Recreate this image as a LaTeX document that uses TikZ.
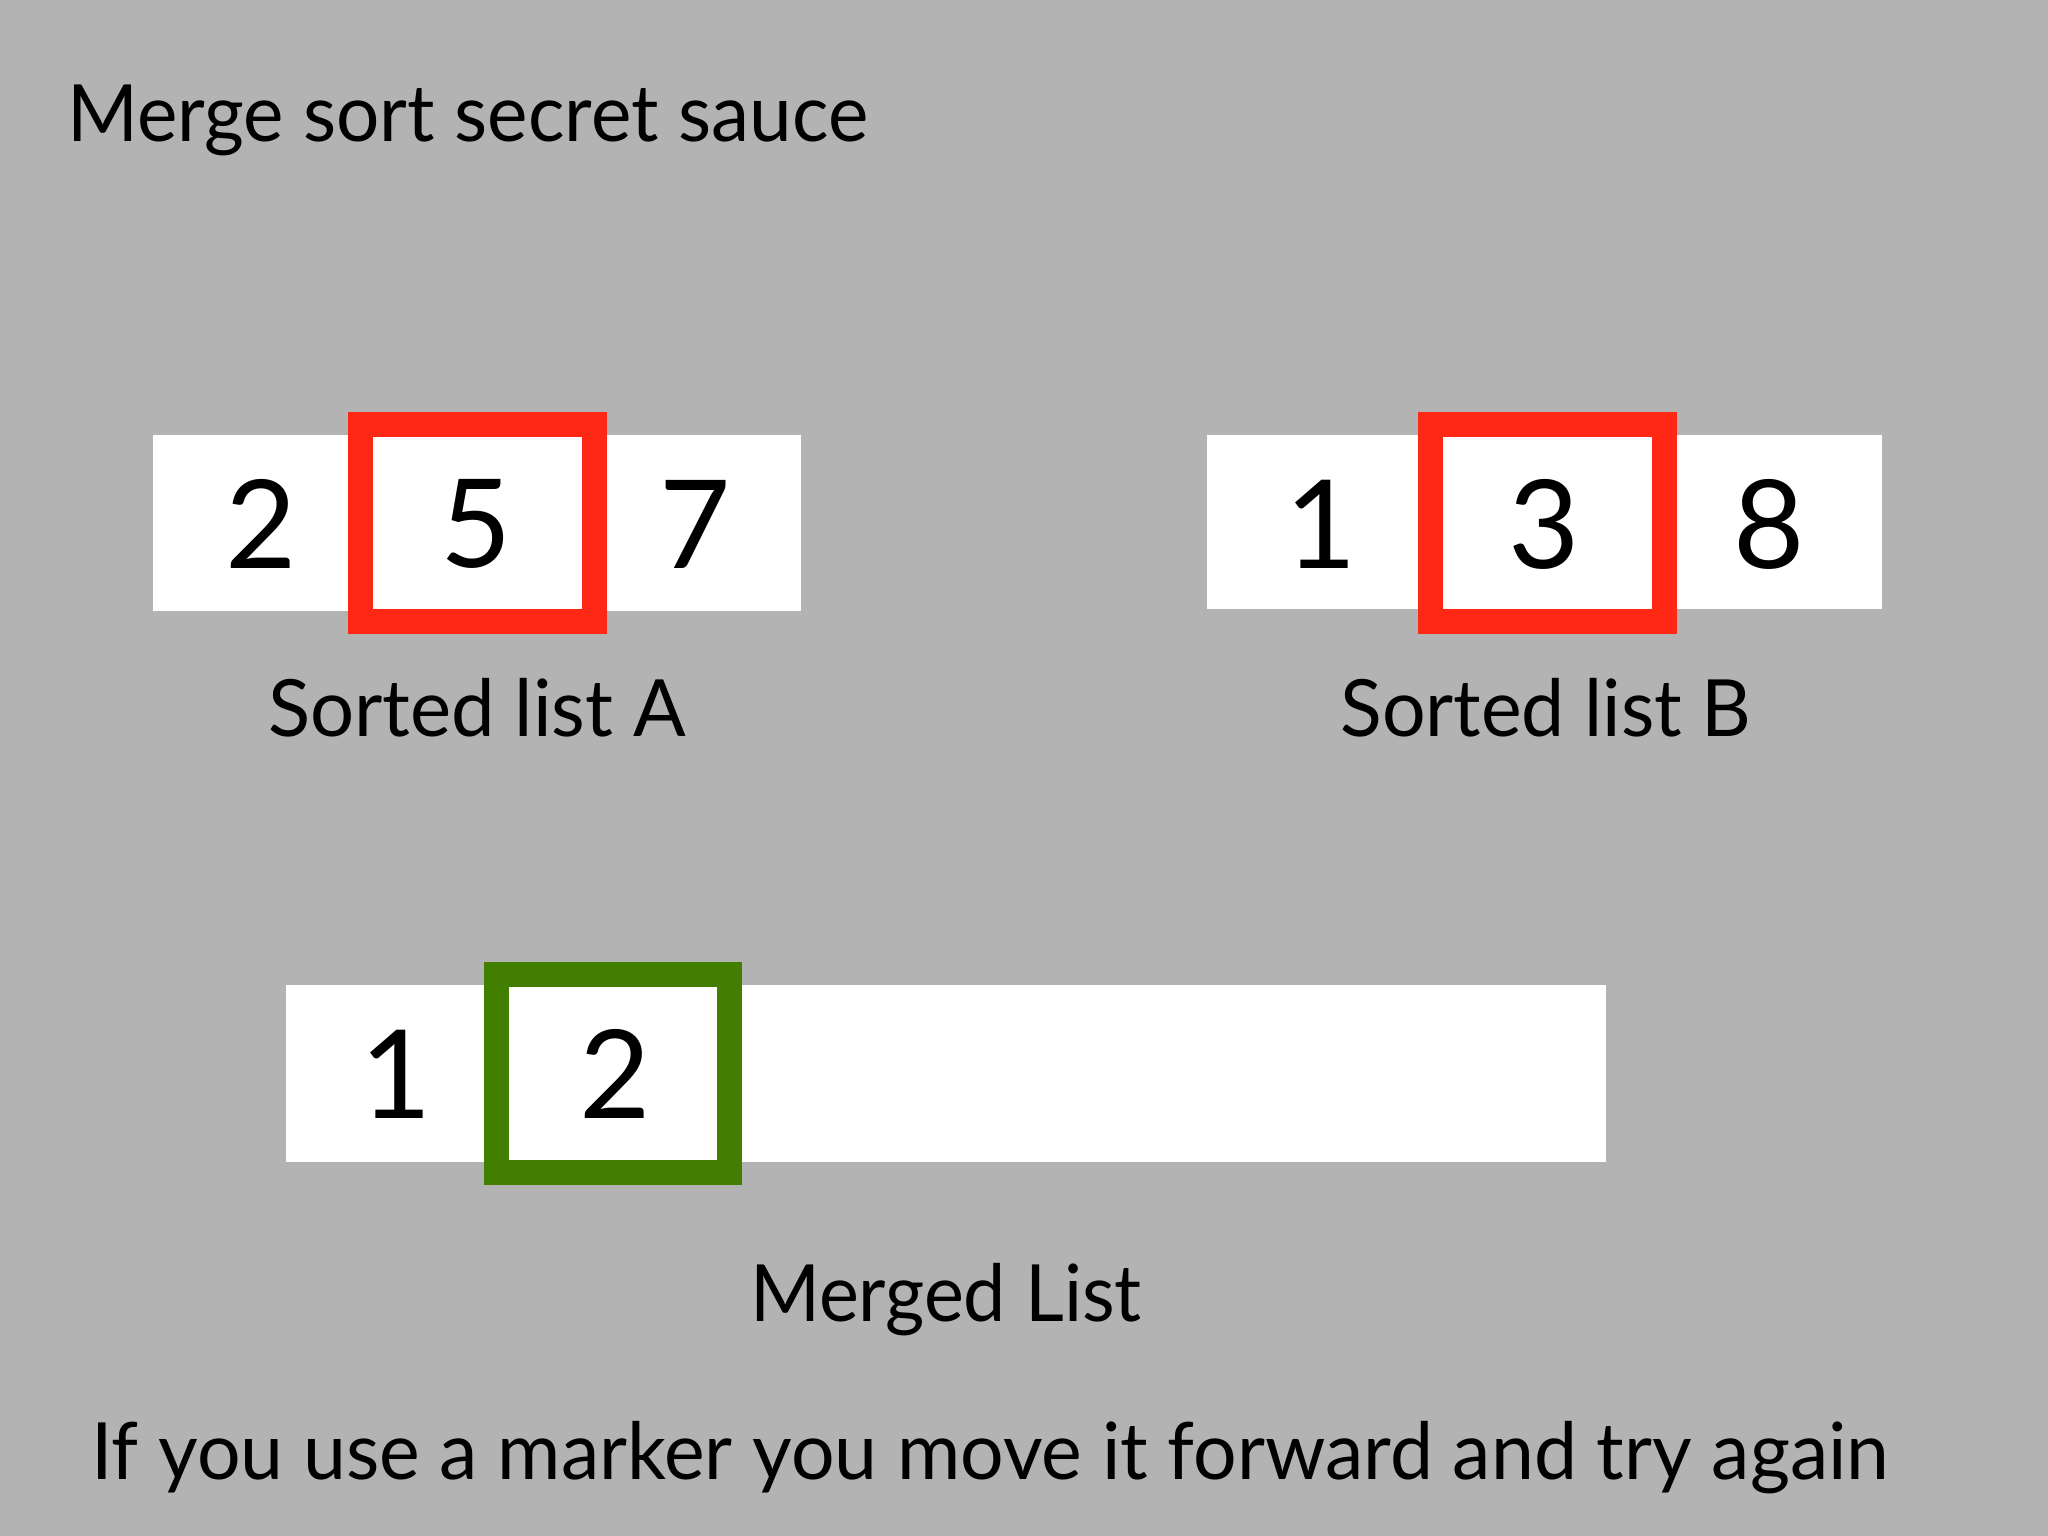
\documentclass[tikz,border=0pt]{standalone}
\usepackage{fontspec}
\setmainfont{Lato}
\definecolor{bg}{RGB}{179,179,179}
\definecolor{mred}{RGB}{254,40,20}
\definecolor{mgreen}{RGB}{66,126,0}
\begin{document}
\begin{tikzpicture}[x=1pt,y=-1pt,
  txt/.style={inner sep=0pt, font=\fontsize{79}{90}\selectfont},
  digit/.style={inner sep=0pt, font=\fontsize{123}{140}\selectfont},
  bar/.style={fill=white, draw=none},
  marker/.style={line width=25pt, fill=white}]
\fill[bg] (0,0) rectangle (2048,1536);
\useasboundingbox (0,0) rectangle (2048,1536);
% title
\node[txt, anchor=base west] (title) at (67,142) {\scalebox{0.968}[1]{Merge sort secret sauce}};
% list A
\fill[bar] (153,435) rectangle (801,611);
\draw[marker, draw=mred] (360.5,424.5) rectangle (594.5,621.5);
\node[digit] (a1) at (261,524) {2};
\node[digit] (a2) at (476,524) {5};
\node[digit] (a3) at (695,524) {7};
\node[txt, anchor=base] (la) at (477,736) {\scalebox{0.985}[1]{Sorted list A}};
% list B
\fill[bar] (1207,435) rectangle (1882,609);
\draw[marker, draw=mred] (1430.5,424.5) rectangle (1664.5,621.5);
\node[digit] (b1) at (1321,524) {1};
\node[digit] (b2) at (1544,524) {3};
\node[digit] (b3) at (1769,524) {8};
\node[txt, anchor=base] (lb) at (1546,736) {\scalebox{0.975}[1]{Sorted list B}};
% merged
\fill[bar] (286,985) rectangle (1606,1162);
\draw[marker, draw=mgreen] (496.5,974.5) rectangle (729.5,1172.5);
\node[digit] (m1) at (396,1074) {1};
\node[digit] (m2) at (615,1074) {2};
\node[txt, anchor=base] (lm) at (946,1321) {\scalebox{0.955}[1]{Merged List}};
% bottom
\node[txt, anchor=base west] (note) at (91,1479) {\scalebox{0.974}[1]{If you use a marker you move it forward and try again}};
\end{tikzpicture}
\end{document}
